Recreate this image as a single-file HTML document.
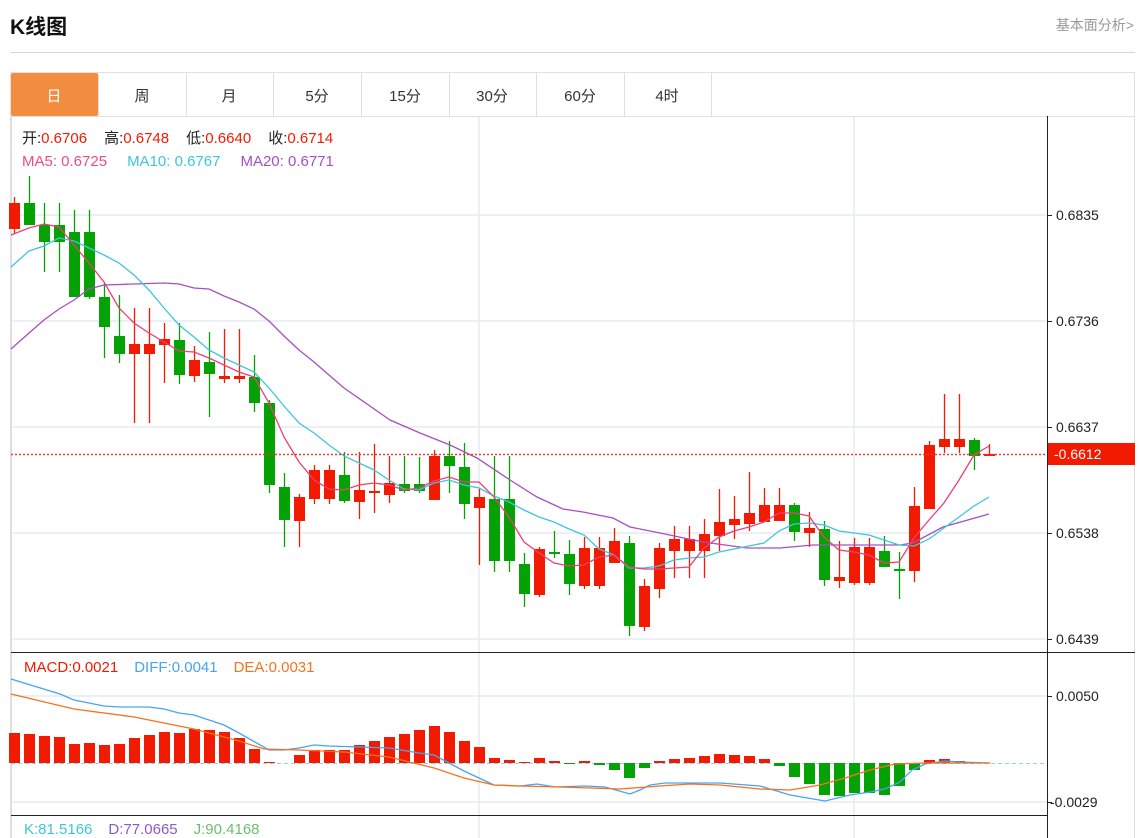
<!DOCTYPE html>
<html><head><meta charset="utf-8"><style>
html,body{margin:0;padding:0;background:#fff;width:1140px;height:838px;overflow:hidden}
svg{display:block}
text{font-family:"Liberation Sans","Noto Sans CJK SC",sans-serif}
</style></head><body>
<svg id="s" width="1140" height="838" viewBox="0 0 1140 838" xmlns="http://www.w3.org/2000/svg">
<text x="10" y="34" font-size="21" font-weight="bold" fill="#111">K线图</text>
<text x="1134" y="30" font-size="14" fill="#999" text-anchor="end">基本面分析&gt;</text>
<line x1="10" y1="52.5" x2="1135" y2="52.5" stroke="#d6d6d6"/>
<rect x="10.5" y="72.5" width="1124" height="780" fill="none" stroke="#e0e0e0"/>
<line x1="10" y1="116.5" x2="1135" y2="116.5" stroke="#e0e0e0"/>
<rect x="11" y="73" width="87" height="43" fill="#f28c3f" rx="2"/>
<g stroke="#e0e0e0"><line x1="98.5" y1="72" x2="98.5" y2="116"/><line x1="186.5" y1="72" x2="186.5" y2="116"/><line x1="273.5" y1="72" x2="273.5" y2="116"/><line x1="361.5" y1="72" x2="361.5" y2="116"/><line x1="449.5" y1="72" x2="449.5" y2="116"/><line x1="536.5" y1="72" x2="536.5" y2="116"/><line x1="624.5" y1="72" x2="624.5" y2="116"/><line x1="711.5" y1="72" x2="711.5" y2="116"/></g>
<g font-size="15" text-anchor="middle" fill="#333">
<text x="54" y="101" fill="#fff">日</text><text x="142" y="101">周</text><text x="229" y="101">月</text><text x="317" y="101">5分</text><text x="405" y="101">15分</text><text x="492" y="101">30分</text><text x="580" y="101">60分</text><text x="667" y="101">4时</text></g>
<g stroke="#e6ecf2" stroke-width="1.5">
<line x1="11" y1="215" x2="1047" y2="215"/><line x1="11" y1="321" x2="1047" y2="321"/><line x1="11" y1="427" x2="1047" y2="427"/><line x1="11" y1="533" x2="1047" y2="533"/><line x1="11" y1="639" x2="1047" y2="639"/>
<line x1="479" y1="117" x2="479" y2="838"/><line x1="854" y1="117" x2="854" y2="838"/>
<line x1="11" y1="696" x2="1047" y2="696"/><line x1="11" y1="802" x2="1047" y2="802"/>
</g>
<line x1="11.5" y1="116" x2="11.5" y2="838" stroke="#ddd"/>
<line x1="1047.5" y1="116" x2="1047.5" y2="838" stroke="#222"/>
<line x1="11" y1="652.5" x2="1135" y2="652.5" stroke="#222"/>
<line x1="11" y1="815.5" x2="1047" y2="815.5" stroke="#222"/>
<g font-size="14" fill="#222">
<text x="1056" y="220">0.6835</text><text x="1056" y="326">0.6736</text><text x="1056" y="432">0.6637</text><text x="1056" y="538">0.6538</text><text x="1056" y="644">0.6439</text>
<text x="1056" y="701">0.0050</text><text x="1050" y="807">-0.0029</text></g>
<g stroke="#222"><line x1="1047" y1="215.5" x2="1052" y2="215.5"/><line x1="1047" y1="321.5" x2="1052" y2="321.5"/><line x1="1047" y1="427.5" x2="1052" y2="427.5"/><line x1="1047" y1="533.5" x2="1052" y2="533.5"/><line x1="1047" y1="639.5" x2="1052" y2="639.5"/><line x1="1047" y1="696.5" x2="1052" y2="696.5"/><line x1="1047" y1="802.5" x2="1052" y2="802.5"/></g>
<line x1="11" y1="763.5" x2="1047" y2="763.5" stroke="#8fd3ea" stroke-dasharray="4,3"/>
<g id="c"></g>
<g fill="none" stroke-width="1.3">
<polyline stroke="#a64fc0" points="11,349 29,333 44,320 59,309 74,300 89,289 104,285 134,284 164,283 179,284 194,288 209,289 224,296 239,302 254,309 269,321 284,336 299,350 314,362 329,375 344,388 390,420 420,433 450,445 477,458 510,480 537,497 563,509 583,512 613,518 630,527 660,533 703,542 747,548 780,548 813,545 867,545 900,545 913,543 943,527 989,514"/>
<polyline stroke="#3cc6dd" points="11,267 29,251 44,246 59,238 74,241 89,248 104,255 119,263 134,275 149,290 164,308 179,325 194,337 209,350 224,358 239,365 254,372 269,388 284,406 299,423 314,433 329,445 344,456 359,463 374,470 389,480 404,489 419,490 434,483 449,480 464,485 479,488 494,496 509,502 524,510 539,517 554,522 569,529 584,535 599,549 614,555 629,568 644,568 659,566 674,560 689,558 704,557 719,552 734,549 749,546 764,543 779,531 794,524 809,523 824,525 839,531 854,533 869,535 884,540 899,545 914,546 929,539 944,528 959,517 974,506 989,497"/>
<polyline stroke="#ee3e78" points="11,235 29,228 44,224 59,227 74,245 89,263 104,282 119,308 134,323 149,333 164,342 179,351 194,352 209,358 224,365 239,372 254,377 269,403 284,437 299,462 314,480 329,489 344,490 359,485 374,483 389,485 404,490 419,488 434,481 449,477 464,482 479,482 494,497 509,517 524,542 539,553 554,563 569,566 584,565 599,557 614,555 629,567 644,569 659,569 674,568 689,567 704,548 719,537 734,531 749,527 764,522 779,513 794,513 809,516 824,537 839,550 854,552 869,555 884,563 899,562 914,538 929,520 944,503 959,480 974,455 989,446"/>
<polyline stroke="#4aa3f0" points="11,679 60,694 74,700 104,706 119,707 149,707 164,709 179,713 194,715 224,725 239,733 269,750 284,750 299,748 314,745 329,746 359,747 389,748 419,753 434,755 449,763 464,771 479,778 494,785 520,786 537,784 555,787 585,786 605,787 630,794 640,790 650,785 665,783 720,783 760,786 790,795 825,801 850,795 870,792 885,789 900,782 912,770 925,764 945,761 960,762 990,763"/>
<polyline stroke="#f5731f" points="11,694 74,709 134,717 194,729 239,741 264,749 299,750 344,752 389,757 434,768 464,778 494,785 520,786 560,787 620,789 660,786 690,784 720,785 760,789 790,790 820,785 845,778 870,770 895,764 925,763 990,763"/>
</g>
<line x1="11" y1="454.5" x2="1047" y2="454.5" stroke="#f03a2a" stroke-dasharray="2,2" stroke-width="1.5"/>
<rect x="1048" y="443" width="87" height="22" fill="#f21a00"/>
<text x="1054" y="459" font-size="14" fill="#fff">-0.6612</text>
<g font-size="15">
<text x="22" y="143"><tspan fill="#222">开:</tspan><tspan fill="#f21a00">0.6706</tspan><tspan fill="#222" dx="17">高:</tspan><tspan fill="#f21a00">0.6748</tspan><tspan fill="#222" dx="17">低:</tspan><tspan fill="#f21a00">0.6640</tspan><tspan fill="#222" dx="17">收:</tspan><tspan fill="#f21a00">0.6714</tspan></text>
<text x="22" y="166"><tspan fill="#ee4d7f">MA5:  0.6725</tspan><tspan fill="#3cc6dd" dx="20">MA10:  0.6767</tspan><tspan fill="#a64fc0" dx="20">MA20:  0.6771</tspan></text>
<text x="24" y="672"><tspan fill="#f21a00">MACD:0.0021</tspan><tspan fill="#4aa3f0" dx="16">DIFF:0.0041</tspan><tspan fill="#f5731f" dx="16">DEA:0.0031</tspan></text>
<text x="24" y="834"><tspan fill="#3cc6dd">K:81.5166</tspan><tspan fill="#8a5cc8" dx="16">D:77.0665</tspan><tspan fill="#6cbf6c" dx="16">J:90.4168</tspan></text>
</g>
</svg>
<script>
var R="#f21a00",G="#04a204";
var d=[[1,203,229,197,234],[0,203,225,176,225],[0,225,242,203,272],[0,225,242,203,272],[0,232,297,210,297],[0,232,297,210,299],[0,297,327,283,358],[0,336,354,295,363],[1,344,354,308,423],[1,344,354,308,423],[1,339,345,323,383],[0,340,375,323,384],[1,360,376,346,382],[0,362,374,332,417],[1,376,379,329,383],[1,376,379,329,383],[0,377,403,355,412],[0,403,485,400,493],[0,487,520,473,547],[1,497,521,494,547],[1,470,499,465,504],[1,470,499,465,504],[0,475,501,452,503],[1,490,502,452,519],[1,491,493,444,513],[1,483,495,456,503],[0,484,491,456,493],[0,484,491,457,493],[1,456,500,450,500],[0,456,466,441,493],[0,467,504,443,519],[1,497,508,489,565],[0,499,561,456,572],[0,499,561,456,572],[0,564,594,553,607],[1,549,595,547,597],[0,552,554,531,558],[0,554,584,540,595],[1,548,586,537,589],[1,548,586,537,589],[1,541,563,528,563],[0,543,626,536,636],[1,586,627,579,631],[1,548,589,543,598],[1,539,551,526,578],[1,539,551,526,578],[1,534,551,519,578],[1,522,536,489,551],[1,519,525,496,539],[1,513,524,472,531],[1,505,522,488,522],[1,505,521,488,521],[0,505,532,503,541],[1,528,533,512,547],[0,529,580,521,586],[1,577,581,541,588],[1,547,583,538,585],[1,547,583,538,585],[0,551,567,536,567],[0,569,571,552,599],[1,506,571,487,582],[1,445,509,441,509],[1,439,447,394,453],[1,439,447,394,453],[0,440,456,438,470],[1,454,456,444,456]];
var m=[733,734,736,737,744,743,745,744,738,735,732,733,729,730,732,738,749,762,763,755,750,750,750,745,741,737,734,730,726,732,741,747,758,760,762,758,761,764,761,765,770,778,768,761,759,758,756,754,755,756,759,766,777,784,795,796,793,793,795,786,770,760,759,761,762,763];
var h="";
for(var i=0;i<d.length;i++){var x=14+15*i,c=d[i][0]?R:G,a=d[i];
h+='<line x1="'+(x+.5)+'" y1="'+a[3]+'" x2="'+(x+.5)+'" y2="'+a[4]+'" stroke="'+c+'" stroke-width="1.3"/>';
h+='<rect x="'+(x-5)+'" y="'+a[1]+'" width="11" height="'+Math.max(2,a[2]-a[1])+'" fill="'+c+'"/>';
var t=m[i];if(t!=763){var y0=Math.min(t,763),hh=Math.abs(t-763);h+='<rect x="'+(x-5)+'" y="'+y0+'" width="11" height="'+Math.max(1,hh)+'" fill="'+(t<763?R:G)+'"/>';}}
document.getElementById("c").innerHTML=h;
</script>
</body></html>
